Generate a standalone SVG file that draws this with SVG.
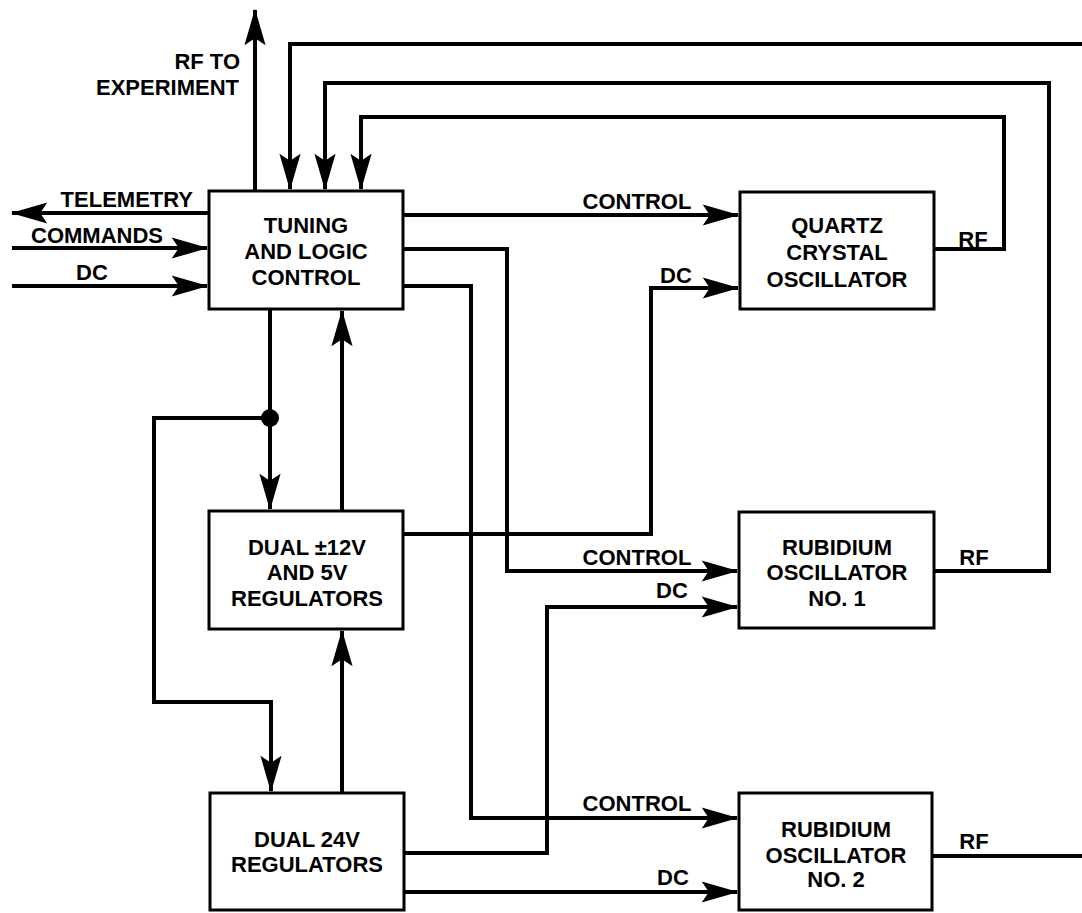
<svg xmlns="http://www.w3.org/2000/svg" width="1082" height="913" viewBox="0 0 1082 913">
<style>
.box{fill:#fff;stroke:#000;stroke-width:3}
.ln{fill:none;stroke:#000;stroke-width:4;stroke-linejoin:miter}
.arr{marker-end:url(#ah)}
text{font-family:"Liberation Sans",Arial,sans-serif;font-weight:bold;font-size:22px;fill:#000}
.c{text-anchor:middle}
.e{text-anchor:end}
</style>
<defs>
<marker id="ah" markerUnits="userSpaceOnUse" markerWidth="40" markerHeight="30" refX="0" refY="0" viewBox="-32 -12 34 24" orient="auto" overflow="visible">
<path d="M1,0 L-30,-9 L-24,0 L-30,9 Z" fill="#000"/>
</marker>
</defs>
<rect width="1082" height="913" fill="#fff"/>
<g id="connectors">
<path class="ln arr" d="M255,191 V10"/>
<path class="ln arr" d="M1082,44 H290 V189"/>
<path class="ln arr" d="M934,571 H1049 V83 H325 V189"/>
<path class="ln arr" d="M934,249 H1004 V117 H361 V189"/>
<path class="ln arr" d="M209,213 H12"/>
<path class="ln arr" d="M12,248 H207"/>
<path class="ln arr" d="M12,286 H207"/>
<path class="ln arr" d="M403,215 H738"/>
<path class="ln arr" d="M403,249 H507 V571 H737"/>
<path class="ln arr" d="M403,286 H471 V818 H737"/>
<path class="ln arr" d="M270,309 V509"/>
<path class="ln arr" d="M270,418 H154 V702 H271 V791"/>
<path class="ln arr" d="M342,511 V311"/>
<path class="ln arr" d="M342,793 V631"/>
<path class="ln arr" d="M403,534 H651 V288 H738"/>
<path class="ln arr" d="M404,853 H547 V607 H737"/>
<path class="ln arr" d="M404,892 H737"/>
<path class="ln" d="M932,856 H1082"/>
<circle cx="270" cy="418" r="9" fill="#000"/>
<text class="e" x="240" y="69">RF TO</text>
<text class="e" x="239" y="95">EXPERIMENT</text>
<text class="e" x="193" y="207">TELEMETRY</text>
<text class="c" x="97" y="243">COMMANDS</text>
<text class="c" x="92" y="280">DC</text>
<text class="c" x="637" y="209">CONTROL</text>
<text class="c" x="676" y="283">DC</text>
<text class="c" x="973" y="247">RF</text>
<text class="c" x="637" y="565">CONTROL</text>
<text class="c" x="672" y="598">DC</text>
<text class="c" x="974" y="565">RF</text>
<text class="c" x="637" y="811">CONTROL</text>
<text class="c" x="673" y="885">DC</text>
<text class="c" x="974" y="849">RF</text>
</g>
<g id="tuning">
<rect class="box" x="209" y="191" width="194" height="118"/>
<text class="c" x="306" y="233">TUNING</text>
<text class="c" x="306" y="259">AND LOGIC</text>
<text class="c" x="306" y="285">CONTROL</text>
</g>
<g id="quartz">
<rect class="box" x="740" y="192" width="194" height="117"/>
<text class="c" x="837" y="233">QUARTZ</text>
<text class="c" x="837" y="260">CRYSTAL</text>
<text class="c" x="837" y="287">OSCILLATOR</text>
</g>
<g id="reg12">
<rect class="box" x="209" y="511" width="194" height="118"/>
<text class="c" x="307" y="555">DUAL ±12V</text>
<text class="c" x="307" y="580">AND 5V</text>
<text class="c" x="307" y="606">REGULATORS</text>
</g>
<g id="rub1">
<rect class="box" x="739" y="512" width="195" height="116"/>
<text class="c" x="837" y="555">RUBIDIUM</text>
<text class="c" x="837" y="580">OSCILLATOR</text>
<text class="c" x="837" y="606">NO. 1</text>
</g>
<g id="reg24">
<rect class="box" x="210" y="793" width="194" height="117"/>
<text class="c" x="307" y="847">DUAL 24V</text>
<text class="c" x="307" y="872">REGULATORS</text>
</g>
<g id="rub2">
<rect class="box" x="739" y="793" width="193" height="117"/>
<text class="c" x="836" y="837">RUBIDIUM</text>
<text class="c" x="836" y="863">OSCILLATOR</text>
<text class="c" x="836" y="887">NO. 2</text>
</g>
</svg>
